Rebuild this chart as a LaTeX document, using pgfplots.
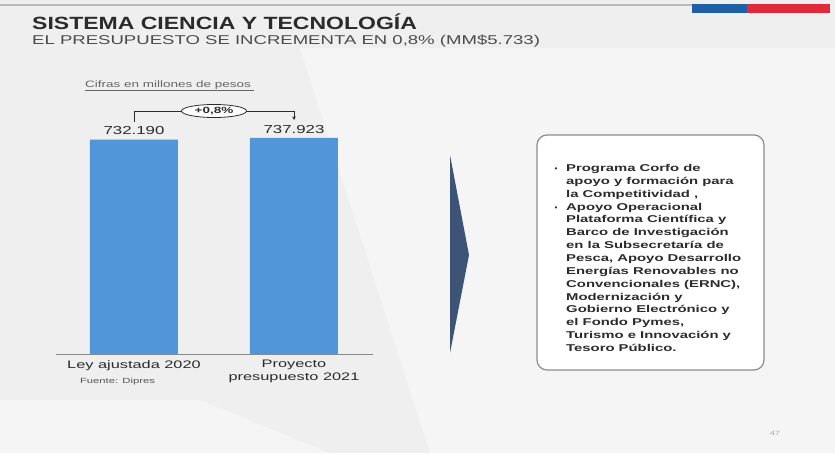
\documentclass[border=0pt]{standalone}
\usepackage{fontspec}
\setmainfont{Liberation Sans}
\newfontfamily\fA{Liberation Sans}[FakeStretch=1.3]
\newfontfamily\fB{Liberation Sans}[FakeStretch=1.45]
\newfontfamily\fC{Liberation Sans}[FakeStretch=1.5]
\usepackage{pgfplots}
\pgfplotsset{compat=1.18}
\usetikzlibrary{shapes.geometric,arrows.meta}
\definecolor{bg}{HTML}{EFEFEF}
\definecolor{bglight}{HTML}{F5F5F5}
\definecolor{barblue}{HTML}{5096D9}
\definecolor{txt}{HTML}{2B2B2B}
\definecolor{axisgray}{HTML}{8A8A8A}
\definecolor{chev}{HTML}{3D5477}
\definecolor{boxgray}{HTML}{8C8C8C}
\definecolor{flagblue}{HTML}{1F5FA6}
\definecolor{flagred}{HTML}{E0293B}
\begin{document}
\begin{tikzpicture}[x=1pt,y=1pt]
\path[use as bounding box] (0,0) rectangle (835,453);
\begin{scope}[yshift=453pt,yscale=-1]
  \fill[bg] (0,0) rectangle (835,453);
  \fill[bglight] (300,48) -- (835,48) -- (835,453) -- (430,453) -- cycle;
  \fill[bglight] (0,400) -- (200,400) -- (330,453) -- (0,453) -- cycle;
  % top line and flag stripe
  \draw[gray!55, line width=1.5pt] (0,5) -- (692,5);
  \fill[flagblue] (692,4) rectangle (747,13);
  \fill[flagred] (747,4) rectangle (830,13);
  % titles
  \node[anchor=base west, inner sep=0, text=txt] at (32,30)
    {\fA\bfseries\fontsize{17.7}{20}\selectfont SISTEMA CIENCIA Y TECNOLOGÍA};
  \node[anchor=base west, inner sep=0, text=txt!85] at (32,44.3)
    {\fB\fontsize{12.8}{14}\selectfont EL PRESUPUESTO SE INCREMENTA EN 0,8\% (MM\$5.733)};
  % note
  \node[anchor=base west, inner sep=0, text=gray!80!black] at (85,88)
    {\fB\fontsize{9.3}{11}\selectfont Cifras en millones de pesos};
  \draw[gray!80!black, line width=0.6pt] (85,90.2) -- (254,90.2);
  % bracket
  \draw[txt, line width=0.8pt] (134,122) -- (134,111) -- (294,111) -- (294,114);
  \draw[txt, line width=0.8pt, -{Stealth[length=3.5pt,width=3.5pt]}] (294,113) -- (294,120);
  \node[draw=txt, line width=0.8pt, ellipse, fill=white, minimum width=65pt, minimum height=13pt, inner sep=0pt, text=txt] at (214,111)
    {\fC\bfseries\fontsize{9}{10}\selectfont +0,8\%};
  % source
  \node[anchor=base, inner sep=0, text=txt!80] at (117.5,383)
    {\fC\fontsize{7.5}{9}\selectfont Fuente: Dipres};
  % chevron
  \fill[chev] (450,155) -- (469,255) -- (450,353) -- cycle;
  % box
  \draw[boxgray, line width=1.2pt, fill=white, rounded corners=10pt] (537,135) rectangle (764,370);
  \foreach \t [count=\i from 0] in {Programa Corfo de, apoyo y formación para, {la Competitividad ,}, Apoyo Operacional, Plataforma Científica y, Barco de Investigación, en la Subsecretaría de, {Pesca, Apoyo Desarrollo}, Energías Renovables no, {Convencionales (ERNC),}, Modernización y, Gobierno Electrónico y, {el Fondo Pymes,}, Turismo e Innovación y, Tesoro Público.}
    \node[anchor=base west, inner sep=0, text=txt] at (566,{171.5+12.86*\i})
      {\fC\bfseries\fontsize{9.9}{11}\selectfont \t};
  \node[anchor=base, inner sep=0, text=txt] at (556,171.5) {\fontsize{8}{9}\selectfont •};
  \node[anchor=base, inner sep=0, text=txt] at (556,{171.5+12.86*3}) {\fontsize{8}{9}\selectfont •};
  % page number
  \node[anchor=base, inner sep=0, text=gray!70] at (775,435) {\fB\fontsize{6}{7}\selectfont 47};
\end{scope}
\begin{axis}[
  at={(56pt,99pt)}, anchor=south west,
  scale only axis, width=317pt, height=254pt,
  xmin=-0.4875, xmax=1.494, ymin=0, ymax=867040,
  enlargelimits=false, clip=false,
  hide y axis, axis x line*=bottom,
  axis line style={draw=axisgray, line width=1pt, -},
  xtick={0,1}, xticklabels={Ley ajustada 2020,{Proyecto\\presupuesto 2021}},
  major tick length=0pt,
  xticklabel style={font=\fC\fontsize{10.9}{12.7}\selectfont, align=center, inner sep=0pt, yshift=-6pt, text=txt},
  point meta=y,
  nodes near coords={\pgfmathprintnumber[fixed,precision=0,1000 sep={.},assume math mode=true]{\pgfplotspointmeta}},
  nodes near coords style={font=\fB\fontsize{11.6}{13}\selectfont, anchor=south, inner sep=0pt, yshift=4.5pt, text=txt},
]
\addplot[ybar, bar width=88pt, fill=barblue, draw=none] coordinates {(0,732190) (1,737923)};
\end{axis}
\end{tikzpicture}
\end{document}
